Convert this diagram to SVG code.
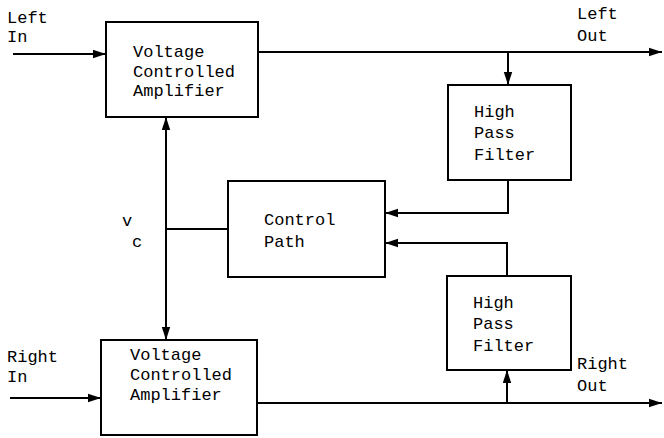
<svg xmlns="http://www.w3.org/2000/svg" width="664" height="438" viewBox="0 0 664 438">
<style>
.box{fill:#fff;stroke:#000;stroke-width:2}
.ln{fill:none;stroke:#000;stroke-width:2}
text{font-family:"Liberation Mono","Courier New",monospace;font-size:17px;fill:#000}
</style>
<defs>
<marker id="ah" markerUnits="userSpaceOnUse" markerWidth="14" markerHeight="10" refX="13" refY="5" orient="auto">
<path d="M0,0.8 L13,5 L0,9.2 Z" fill="#000"/>
</marker>
</defs>
<rect width="664" height="438" fill="#fff"/>
<g id="connectors">
<line class="ln" x1="13" y1="54" x2="106" y2="54" marker-end="url(#ah)"/>
<line class="ln" x1="10" y1="398" x2="101" y2="398" marker-end="url(#ah)"/>
<line class="ln" x1="258" y1="52" x2="662" y2="52" marker-end="url(#ah)"/>
<line class="ln" x1="257" y1="403" x2="662" y2="403" marker-end="url(#ah)"/>
<line class="ln" x1="508" y1="52" x2="508" y2="85" marker-end="url(#ah)"/>
<line class="ln" x1="507" y1="403" x2="507" y2="370" marker-end="url(#ah)"/>
<polyline class="ln" points="508,180 508,213 385,213" marker-end="url(#ah)"/>
<polyline class="ln" points="507,276 507,243 385,243" marker-end="url(#ah)"/>
<line class="ln" x1="166" y1="229" x2="166" y2="117" marker-end="url(#ah)"/>
<line class="ln" x1="166" y1="229" x2="166" y2="340" marker-end="url(#ah)"/>
<line class="ln" x1="166" y1="229" x2="228" y2="229"/>
</g>
<g id="labels">
<text x="7" y="23">Left</text>
<text x="7" y="42">In</text>
<text x="7" y="362">Right</text>
<text x="7" y="382">In</text>
<text x="577" y="19">Left</text>
<text x="577" y="41">Out</text>
<text x="577" y="369">Right</text>
<text x="577" y="391">Out</text>
<text x="122" y="226">v</text>
<text x="132" y="247">c</text>
</g>
<g id="vca-left">
<rect class="box" x="106" y="22" width="152" height="95"/>
<text x="133" y="57">Voltage</text>
<text x="133" y="77">Controlled</text>
<text x="133" y="96">Amplifier</text>
</g>
<g id="vca-right">
<rect class="box" x="101" y="340" width="156" height="95"/>
<text x="130" y="360">Voltage</text>
<text x="130" y="380">Controlled</text>
<text x="130" y="400">Amplifier</text>
</g>
<g id="hpf-left">
<rect class="box" x="448" y="85" width="123" height="95"/>
<text x="474" y="117">High</text>
<text x="474" y="138">Pass</text>
<text x="474" y="160">Filter</text>
</g>
<g id="hpf-right">
<rect class="box" x="447" y="276" width="124" height="94"/>
<text x="473" y="308">High</text>
<text x="473" y="329">Pass</text>
<text x="473" y="351">Filter</text>
</g>
<g id="control-path">
<rect class="box" x="228" y="181" width="157" height="96"/>
<text x="264" y="225">Control</text>
<text x="264" y="247">Path</text>
</g>
</svg>
